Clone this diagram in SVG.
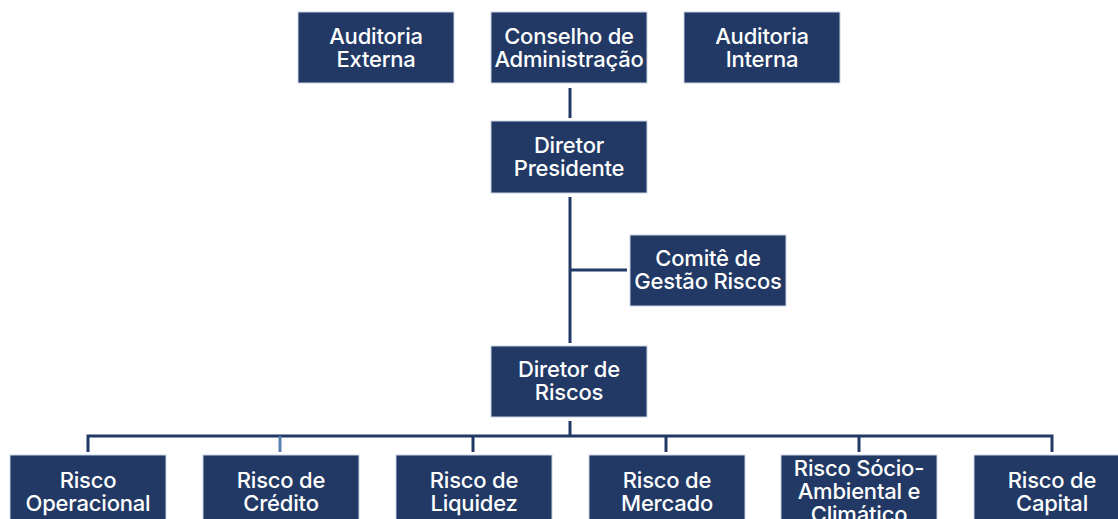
<svg xmlns="http://www.w3.org/2000/svg" width="1118" height="519" viewBox="0 0 1118 519">
<style>
.box{fill:#213964;stroke:#c9d3e3;stroke-width:1}
.t{font-family:Inter,"Noto Sans",sans-serif;font-size:22px;font-weight:500;fill:#ffffff;text-anchor:middle;letter-spacing:-0.2px}
.ln{stroke:#213964;stroke-width:3;fill:none}
</style>
<rect width="1118" height="519" fill="#ffffff"/>
<g id="connectors">
<line class="ln" x1="570" y1="88" x2="570" y2="118"/>
<line class="ln" x1="570" y1="197" x2="570" y2="343"/>
<line class="ln" x1="570" y1="270" x2="627" y2="270"/>
<line class="ln" x1="570" y1="421" x2="570" y2="436"/>
<polyline class="ln" points="88,452 88,436 1052,436 1052,452"/>
<line class="ln" x1="280" y1="436" x2="280" y2="452" style="stroke:#5a7fb0"/>
<line class="ln" x1="473" y1="436" x2="473" y2="452"/>
<line class="ln" x1="666" y1="436" x2="666" y2="452"/>
<line class="ln" x1="859" y1="436" x2="859" y2="452"/>
</g>
<g id="auditoria-externa"><rect class="box" x="298" y="12" width="156" height="71"/><text class="t" x="376" y="44">Auditoria</text><text class="t" x="376" y="67">Externa</text></g>
<g id="conselho"><rect class="box" x="491" y="12" width="156" height="71"/><text class="t" x="569" y="44">Conselho de</text><text class="t" x="569" y="67">Administração</text></g>
<g id="auditoria-interna"><rect class="box" x="684" y="12" width="156" height="71"/><text class="t" x="762" y="44">Auditoria</text><text class="t" x="762" y="67">Interna</text></g>
<g id="diretor-presidente"><rect class="box" x="491" y="121" width="156" height="72"/><text class="t" x="569" y="153">Diretor</text><text class="t" x="569" y="176">Presidente</text></g>
<g id="comite"><rect class="box" x="630" y="235" width="156" height="71"/><text class="t" x="708" y="266">Comitê de</text><text class="t" x="708" y="289">Gestão Riscos</text></g>
<g id="diretor-riscos"><rect class="box" x="491" y="346" width="156" height="71"/><text class="t" x="569" y="377">Diretor de</text><text class="t" x="569" y="400">Riscos</text></g>
<g id="risco-operacional"><rect class="box" x="10" y="455" width="156" height="80"/><text class="t" x="88" y="488">Risco</text><text class="t" x="88" y="511">Operacional</text></g>
<g id="risco-credito"><rect class="box" x="203" y="455" width="156" height="80"/><text class="t" x="281" y="488">Risco de</text><text class="t" x="281" y="511">Crédito</text></g>
<g id="risco-liquidez"><rect class="box" x="396" y="455" width="156" height="80"/><text class="t" x="474" y="488">Risco de</text><text class="t" x="474" y="511">Liquidez</text></g>
<g id="risco-mercado"><rect class="box" x="589" y="455" width="156" height="80"/><text class="t" x="667" y="488">Risco de</text><text class="t" x="667" y="511">Mercado</text></g>
<g id="risco-socio"><rect class="box" x="781" y="455" width="156" height="80"/><text class="t" x="859" y="476">Risco Sócio-</text><text class="t" x="859" y="499">Ambiental e</text><text class="t" x="859" y="522">Climático</text></g>
<g id="risco-capital"><rect class="box" x="974" y="455" width="156" height="80"/><text class="t" x="1052" y="488">Risco de</text><text class="t" x="1052" y="511">Capital</text></g>
</svg>
